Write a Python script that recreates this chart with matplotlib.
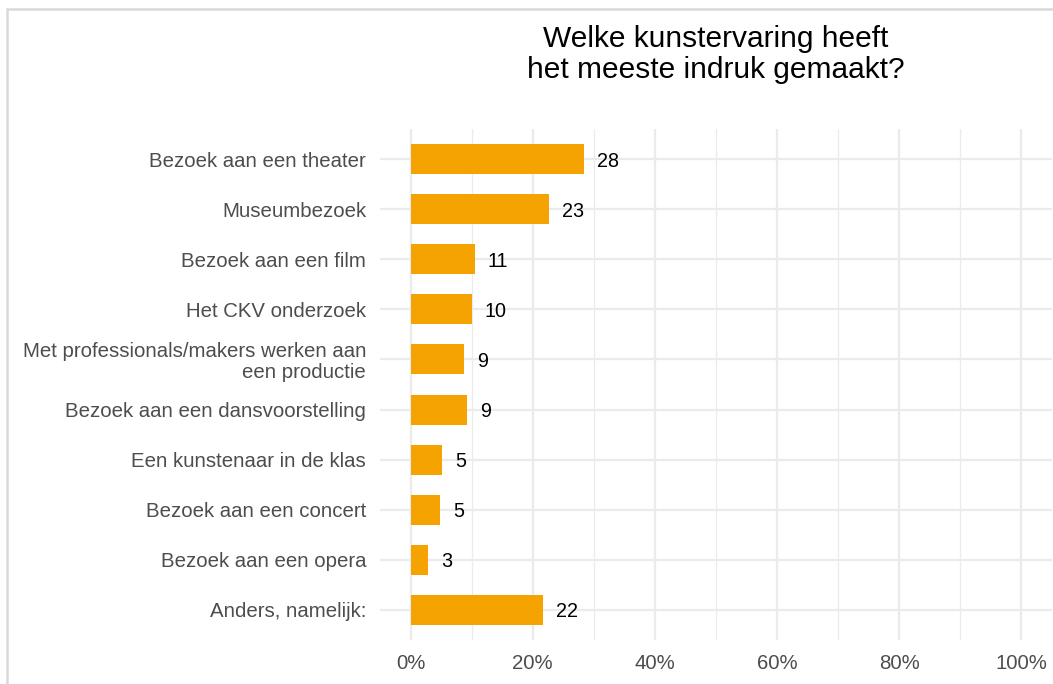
import matplotlib
matplotlib.use('Agg')
import matplotlib.pyplot as plt
from matplotlib.patches import Rectangle

plt.rcParams['font.family'] = ['Liberation Sans', 'DejaVu Sans']

# data (top to bottom)
categories = ['Bezoek aan een theater', 'Museumbezoek', 'Bezoek aan een film',
              'Het CKV onderzoek',
              'Met professionals/makers werken aan\neen productie',
              'Bezoek aan een dansvoorstelling', 'Een kunstenaar in de klas',
              'Bezoek aan een concert', 'Bezoek aan een opera',
              'Anders, namelijk:']
percent = [28.4, 22.6, 10.5, 10.0, 8.7, 9.2, 5.2, 4.8, 2.8, 21.6]
labels = ['28', '23', '11', '10', '9', '9', '5', '5', '3', '22']
xticks = [0, 20, 40, 60, 80, 100]
xticklabels = ['0%', '20%', '40%', '60%', '80%', '100%']

W, H = 1053, 684
fig = plt.figure(figsize=(W / 100, H / 100), dpi=100)
ax = fig.add_axes([380 / W, 1 - 640 / H, (1052 - 380) / W, (640 - 129) / H])

ypos = list(range(len(categories)))
ax.barh(ypos, percent, height=0.6, color='#F5A300', zorder=3)
for y, v, lab in zip(ypos, percent, labels):
    ax.annotate(lab, (v, y), xytext=(9.5, 0), textcoords='offset points',
                ha='left', va='center_baseline', fontsize=14.2, color='black')

ax.set_xlim(-5, 105)
ax.set_ylim(len(categories) - 0.4, -0.6)
ax.set_xticks(xticks)
ax.set_xticklabels(xticklabels)
ax.set_xticks([10, 30, 50, 70, 90], minor=True)
ax.set_yticks(ypos)
ax.set_yticklabels(categories, linespacing=1.1)

ax.grid(True, which='major', color='#ebebeb', linewidth=1.6, zorder=0)
ax.grid(True, which='minor', axis='x', color='#ebebeb', linewidth=0.9, zorder=0)
ax.set_axisbelow(True)
for s in ax.spines.values():
    s.set_visible(False)
ax.tick_params(axis='both', which='both', length=0, labelsize=14.7, colors='#4d4d4d')
ax.tick_params(axis='x', pad=10)
ax.tick_params(axis='y', pad=10)

fig.text(716 / W, 1 - 25 / H, 'Welke kunstervaring heeft\nhet meeste indruk gemaakt?',
         ha='center', va='top', fontsize=21.5, color='black', linespacing=1.15)

# light frame around the figure
fig.patches.append(Rectangle((7 / W, -0.05), 1.1, 1 - 9 / H + 0.05,
                             transform=fig.transFigure, fill=False,
                             edgecolor='#d9d9d9', linewidth=1.8))

fig.savefig('out.png', dpi=100)
